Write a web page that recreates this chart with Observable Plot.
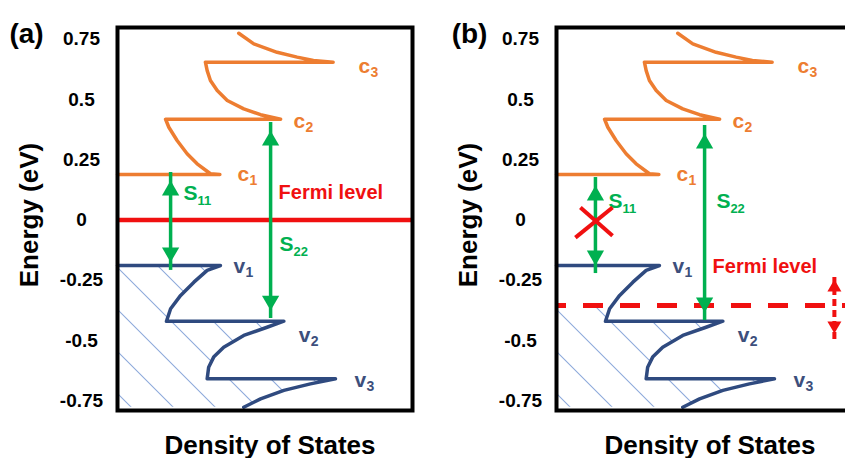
<!DOCTYPE html>
<html><head><meta charset="utf-8">
<script src="https://cdn.jsdelivr.net/npm/d3@7"></script>
<script src="https://cdn.jsdelivr.net/npm/@observablehq/plot@0.6"></script>
<style>
html,body{margin:0;padding:0;overflow:hidden;background:#fff;}
#wrap{position:relative;width:845px;height:458px;overflow:hidden;}
.panel{position:absolute;top:0;width:439px;height:458px;}
.panel svg{max-width:none !important;}
</style></head><body>
<div id="wrap"><div class="panel" id="pa" style="left:0"></div><div class="panel" id="pb" style="left:439px"></div></div>
<script>
// ---------- data ----------
const yTicks = [0.75, 0.5, 0.25, 0, -0.25, -0.5, -0.75];
const yTickLabels = ["0.75", "0.5", "0.25", "0", "-0.25", "-0.5", "-0.75"];

// conduction-band density of states (arbitrary DOS units, energy in eV)
const condDOS = [0, 34.7, 31.5, 27.0, 23.6, 20.2, 17.4, 16.3, 55.3, 48.5, 42.8, 37.2, 33.8, 31.5, 30.4, 29.8, 73.1, 66.4, 60.9, 54.1, 46.2, 41.1];
const condE   = [0.189, 0.189, 0.192, 0.233, 0.275, 0.330, 0.385, 0.418, 0.418, 0.437, 0.461, 0.496, 0.537, 0.579, 0.620, 0.655, 0.655, 0.662, 0.676, 0.696, 0.731, 0.775];

// valence-band density of states
const valDOS = [0, 34.9, 30.4, 25.9, 21.4, 18.0, 16.6, 56.4, 50.7, 42.8, 36.0, 32.6, 30.9, 30.4, 73.9, 65.4, 56.4, 48.5, 42.8];
const valE   = [-0.189, -0.189, -0.209, -0.258, -0.313, -0.368, -0.420, -0.420, -0.445, -0.479, -0.528, -0.569, -0.611, -0.659, -0.659, -0.680, -0.707, -0.742, -0.777];

const bandNames = ["c", "c", "c", "v", "v", "v"];
const bandSubs = ["1", "2", "3", "1", "2", "3"];
const bandLabelDOS = [40.7, 59.7, 81.7, 39.3, 61.4, 80.3];
const bandLabelE = [0.160, 0.380, 0.612, -0.222, -0.508, -0.695];

const transNames = ["S", "S"];
const transSubs = ["11", "22"];
// panel (a)
const transDOSA = [18.0, 51.9];
const transTopA = [0.164, 0.371];
const transBottomA = [-0.176, -0.376];
const transLabelDOSA = [22.4, 54.9];
const transLabelEA = [0.081, -0.127];
// panel (b)
const transDOSB = [13.2, 50.2];
const transTopB = [0.143, 0.359];
const transBottomB = [-0.189, -0.384];
const transLabelDOSB = [17.6, 54.2];
const transLabelEB = [0.048, 0.048];

const fermiA = 0;
const fermiB = -0.355;
const fermiText = "Fermi level";
const fermiLabelA = [54.6, 0.089];
const fermiLabelB = [52.9, -0.222];
const fermiCrossB = [18.3, -0.355];           // where the shifted Fermi level meets the valence curve

// red cross over S11 in (b): two strokes [x1, E1, x2, E2]
const crossX1 = [6.4, 8.1];
const crossE1 = [-0.073, 0.052];
const crossX2 = [19.0, 19.0];
const crossE2 = [0.052, -0.065];

// red Fermi-level shift arrow in (b)
const shiftDOS = 94.2;
const shiftTop = -0.247;
const shiftBottom = -0.471;

const panelTitles = ["(a)", "(b)"];
const xTitle = "Density of States";
const yTitle = "Energy (eV)";

// ---------- colours / style ----------
const ORANGE = "#ED7D31", NAVY = "#2F4A7F", VLAB = "#3D4F7C", GREEN = "#00B050", RED = "#F01010", HATCH = "#8EAADB";
const FONT = "'Liberation Sans', Arial, Helvetica, sans-serif";

const cond = condDOS.map((d, i) => ({dos: d, E: condE[i]}));
const val = valDOS.map((d, i) => ({dos: d, E: valE[i]}));
const bands = bandNames.map((n, i) => ({name: n, sub: bandSubs[i], dos: bandLabelDOS[i], E: bandLabelE[i], kind: i < 3 ? "c" : "v"}));

function panel(which) {
  const isA = which === "a";
  const tDOS = isA ? transDOSA : transDOSB;
  const tTop = isA ? transTopA : transTopB;
  const tBot = isA ? transBottomA : transBottomB;
  const tLD = isA ? transLabelDOSA : transLabelDOSB;
  const tLE = isA ? transLabelEA : transLabelEB;
  const trans = tDOS.map((d, i) => ({dos: d, top: tTop[i], bottom: tBot[i], name: transNames[i], sub: transSubs[i], ldos: tLD[i], lE: tLE[i]}));
  const hatchId = "hatch" + which;
  const hatchData = isA ? val : [{dos: fermiCrossB[0], E: fermiCrossB[1]}].concat(val.filter(d => d.E < fermiB));
  const fl = isA ? fermiLabelA : fermiLabelB;

  const marks = [
    Plot.areaX(hatchData, {x1: () => 0, x2: "dos", y: "E", fill: `url(#${hatchId})`}),
    Plot.line(cond, {x: "dos", y: "E", stroke: ORANGE, strokeWidth: 3.5, strokeLinejoin: "round"}),
    Plot.line(val, {x: "dos", y: "E", stroke: NAVY, strokeWidth: 3.5, strokeLinejoin: "round"}),
    isA
      ? Plot.ruleY([fermiA], {stroke: RED, strokeWidth: 4.5})
      : Plot.ruleY([fermiB], {stroke: RED, strokeWidth: 5, strokeDasharray: "20,17", strokeDashoffset: 10}),
    // green transition arrows
    Plot.ruleX(trans, {x: "dos", y1: "bottom", y2: "top", stroke: GREEN, strokeWidth: 3.5, insetTop: 8, insetBottom: 8}),
    Plot.dot(trans, {x: "dos", y: "top", symbol: "triangle", r: 6.4, fill: GREEN, stroke: "none", dy: 10}),
    Plot.dot(trans, {x: "dos", y: "bottom", symbol: "triangle", r: 6.4, fill: GREEN, stroke: "none", rotate: 180, dy: -10}),
    Plot.text(trans, {x: "ldos", y: "lE", text: "name", fill: GREEN, fontSize: 21, fontWeight: "bold", textAnchor: "start", lineAnchor: "bottom"}),
    Plot.text(trans, {x: "ldos", y: "lE", text: "sub", fill: GREEN, fontSize: 13, fontWeight: "bold", textAnchor: "start", lineAnchor: "bottom", dx: 14, dy: 5}),
    // band labels
    Plot.text(bands, {x: "dos", y: "E", text: "name", fill: d => d.kind === "c" ? ORANGE : VLAB, fontSize: 21, fontWeight: "bold", textAnchor: "start", lineAnchor: "bottom"}),
    Plot.text(bands, {x: "dos", y: "E", text: "sub", fill: d => d.kind === "c" ? ORANGE : VLAB, fontSize: 14, fontWeight: "bold", textAnchor: "start", lineAnchor: "bottom", dx: 12, dy: 4}),
    // Fermi label
    Plot.text([fermiText], {x: fl[0], y: fl[1], text: d => d, fill: RED, fontSize: 20, fontWeight: "bold", textAnchor: "start", lineAnchor: "bottom"}),
  ];
  if (!isA) {
    const cross = crossX1.map((d, i) => ({x1: d, y1: crossE1[i], x2: crossX2[i], y2: crossE2[i]}));
    marks.push(
      Plot.link(cross, {x1: "x1", y1: "y1", x2: "x2", y2: "y2", stroke: RED, strokeWidth: 4}),
      Plot.ruleX([shiftDOS], {y1: shiftBottom, y2: shiftTop, stroke: RED, strokeWidth: 4, strokeDasharray: "7,4", insetTop: 6, insetBottom: 6}),
      Plot.dot([shiftDOS], {x: d => d, y: shiftTop, symbol: "triangle", r: 5.2, fill: RED, stroke: "none", dy: 8}),
      Plot.dot([shiftDOS], {x: d => d, y: shiftBottom, symbol: "triangle", r: 5.2, fill: RED, stroke: "none", rotate: 180, dy: -8})
    );
  }
  marks.push(
    Plot.frame({stroke: "black", strokeWidth: 4}),
    Plot.axisY({ticks: yTicks, tickFormat: d => yTickLabels[yTicks.indexOf(d)], tickSize: 0, tickPadding: 36, textAnchor: "middle", fontSize: 19, fontWeight: "bold", fill: "black", label: null}),
    Plot.text([panelTitles[isA ? 0 : 1]], {frameAnchor: "top-left", text: d => d, dx: isA ? -91 : -87, dy: 7, textAnchor: "middle", lineAnchor: "middle", fontSize: 28, fontWeight: "bold", fill: "black"}),
    Plot.text([yTitle], {frameAnchor: "left", text: d => d, dx: -88, dy: -4, rotate: -90, textAnchor: "middle", lineAnchor: "middle", fontSize: 26, fontWeight: "bold", fill: "black"}),
    Plot.text([xTitle], {frameAnchor: "bottom", text: d => d, dx: isA ? 5 : 6, dy: 43, textAnchor: "middle", lineAnchor: "bottom", fontSize: 26, fontWeight: "bold", fill: "black"})
  );

  const svg = Plot.plot({
    width: 439, height: 458,
    marginLeft: 117, marginRight: 27, marginTop: 27, marginBottom: 48,
    x: {domain: [0, 100], axis: null},
    y: {domain: [-0.7905, 0.7988], axis: null},
    style: {fontFamily: FONT, background: "white", color: "black", maxWidth: "none"},
    marks
  });
  svg.style.maxWidth = "none";
  // single large seamless hatch tile ("\" lines, 42 px apart)
  const ns = "http://www.w3.org/2000/svg";
  const defs = document.createElementNS(ns, "defs");
  const pat = document.createElementNS(ns, "pattern");
  const T = 1000;
  pat.setAttribute("id", hatchId);
  pat.setAttribute("patternUnits", "userSpaceOnUse");
  pat.setAttribute("x", 0); pat.setAttribute("y", 0);
  pat.setAttribute("width", T);
  pat.setAttribute("height", T);
  let d = "";
  for (let c = 18 - 42 * 30; c < T; c += 42) d += `M${c - 5},-5L${c + T + 5},${T + 5}`;
  const p = document.createElementNS(ns, "path");
  p.setAttribute("d", d);
  p.setAttribute("stroke", HATCH);
  p.setAttribute("stroke-width", 1.2);
  p.setAttribute("fill", "none");
  pat.appendChild(p);
  defs.appendChild(pat);
  svg.insertBefore(defs, svg.firstChild);
  return svg;
}

document.getElementById("pa").appendChild(panel("a"));
document.getElementById("pb").appendChild(panel("b"));
</script>
</body></html>
